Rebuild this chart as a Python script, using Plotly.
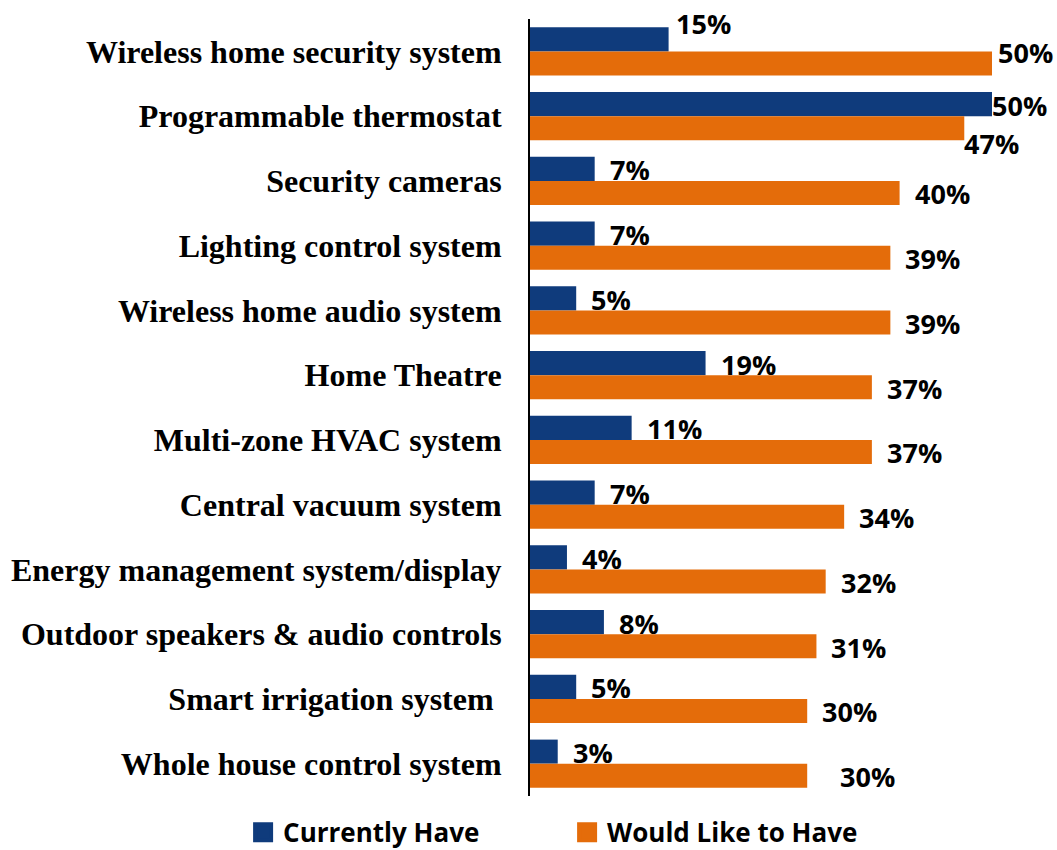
import plotly.graph_objects as go

# Smart-home features: share of respondents who have each one vs. would like to have it
categories = [
    "Wireless home security system",
    "Programmable thermostat",
    "Security cameras",
    "Lighting control system",
    "Wireless home audio system",
    "Home Theatre",
    "Multi-zone HVAC system",
    "Central vacuum system",
    "Energy management system/display",
    "Outdoor speakers & audio controls",
    "Smart irrigation system\u00a0",
    "Whole house control system",
]
currently_have = [15, 50, 7, 7, 5, 19, 11, 7, 4, 8, 5, 3]
would_like = [50, 47, 40, 39, 39, 37, 37, 34, 32, 31, 30, 30]

series_names = ["Currently Have", "Would Like to Have"]
BLUE = "#0F3B7C"
ORANGE = "#E46C0A"

BARGAP = 0.258
LABEL_FONT = dict(family="Open Sans, Lato, sans-serif", size=27, color="#000000", weight="bold")
LABEL_GAP = 13          # px between bar end and value label
LABEL_DROP = -1         # px, labels sit slightly below bar centre
# hand-placed labels: (series index, category index) -> (extra x px, extra y px)
LABEL_NUDGE = {
    (0, 0): (-8, 17),
    (1, 0): (-9, 12),
    (0, 1): (-15, 0),
    (1, 1): (-15, -14),
    (1, 11): (18, 0),
}

fig = go.Figure()
for name, vals, col in zip(series_names, [currently_have, would_like], [BLUE, ORANGE]):
    fig.add_trace(go.Bar(
        y=categories, x=vals, name=name, orientation="h",
        marker=dict(color=col, line=dict(width=0)),
        showlegend=False, hoverinfo="skip",
    ))
    # legend entry with a larger square swatch
    fig.add_trace(go.Scatter(
        x=[None], y=[None], mode="markers", name=name,
        marker=dict(symbol="square", size=16, color=col, line=dict(color=col, width=4)),
        showlegend=True, hoverinfo="skip",
    ))

# value labels placed beside each bar, on the bar's own centre line
half = (1 - BARGAP) / 4
annotations = []
for s, vals in enumerate([currently_have, would_like]):
    offset = -half if s == 0 else half
    for i, v in enumerate(vals):
        dx, dy = LABEL_NUDGE.get((s, i), (0, 0))
        annotations.append(dict(
            x=v, y=i + offset, xref="x", yref="y",
            text=f"{v}%", showarrow=False,
            xanchor="left", yanchor="middle",
            xshift=LABEL_GAP + dx, yshift=LABEL_DROP + dy,
            font=LABEL_FONT,
        ))

fig.update_layout(
    width=1057, height=850,
    margin=dict(l=530, r=65, t=19, b=54.3, autoexpand=False),
    paper_bgcolor="white", plot_bgcolor="white",
    barmode="group", bargap=BARGAP, bargroupgap=0,
    annotations=annotations,
    legend=dict(
        orientation="h",
        xref="paper", yref="paper",
        x=-0.621, y=-0.0468, xanchor="left", yanchor="middle",
        font=dict(family="Open Sans, Lato, sans-serif", size=26, color="#000000", weight="bold"),
        entrywidth=279, itemwidth=30,
        bgcolor="rgba(0,0,0,0)",
    ),
    xaxis=dict(range=[0, 50], visible=False, fixedrange=True),
    yaxis=dict(
        type="category", categoryorder="array", categoryarray=categories,
        autorange="reversed",
        showline=True, linecolor="#000000", linewidth=2,
        showgrid=False, zeroline=False, ticks="",
        ticklabelstandoff=20, automargin=False,
        tickfont=dict(family="Liberation Serif, Times New Roman, serif", size=32,
                      color="#000000", weight="bold"),
        fixedrange=True,
    ),
)

fig.write_html("out.html")
